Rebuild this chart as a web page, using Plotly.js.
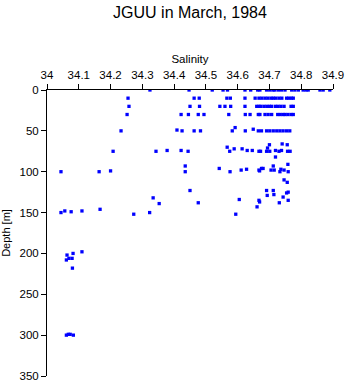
<!DOCTYPE html>
<html>
<head>
<meta charset="utf-8">
<script src="https://cdn.plot.ly/plotly-3.0.1.min.js"></script>
<style>html,body{margin:0;padding:0;background:#fff;}#chart{width:346px;height:384px;}</style>
</head>
<body>
<div id="chart"></div>
<script>
// Salinity / depth pairs, grouped by depth band
var sal_0 = [34.324,34.447,34.520,34.554,34.568,34.623,34.641,34.663,34.670,34.691,34.701,34.711,34.717,34.728,34.738,34.749,34.770,34.780,34.791,34.806,34.815,34.822,34.859,34.869,34.890];
var dep_0 = [0,0,0,0,0,0,0,0,0,0,0,0,0,0,0,0,0,0,0,0,0,0,0,0,0];

var sal_10 = [34.255,34.463,34.479,34.566,34.577,34.623,34.655,34.667,34.676,34.686,34.695,34.705,34.712,34.720,34.730,34.739,34.754,34.761,34.769,34.775];
var dep_10 = [10,10,10,10,10,10,10,10,10,10,10,10,10,10,10,10,10,10,10,10];

var sal_20 = [34.258,34.450,34.480,34.544,34.560,34.578,34.623,34.660,34.667,34.673,34.683,34.692,34.700,34.707,34.719,34.727,34.736,34.746,34.768,34.775];
var dep_20 = [20,20,20,20,20,20,20,20,20,20,20,20,20,20,20,20,20,20,20,20];

var sal_30 = [34.252,34.422,34.445,34.476,34.494,34.572,34.624,34.639,34.665,34.670,34.686,34.696,34.707,34.726,34.734,34.743,34.749,34.758,34.768,34.775];
var dep_30 = [30,30,30,30,30,30,30,30,30,30,30,30,30,30,30,30,30,30,30,30];

var sal_50 = [34.233,34.409,34.425,34.463,34.483,34.583,34.592,34.624,34.649,34.665,34.675,34.691,34.701,34.712,34.723,34.733,34.743,34.754,34.764];
var dep_50 = [50,49,50,50,50,50,46,50,48,50,50,50,50,50,50,50,50,50,50];

var sal_75 = [34.208,34.343,34.378,34.422,34.444,34.567,34.575,34.589,34.614,34.630,34.646,34.667,34.672,34.691,34.694,34.701,34.719,34.730,34.738,34.757,34.765,34.700,34.740,34.756,34.719,34.758];
var dep_75 = [75,75,74,74,75,70,75,72,72,74,74,75,75,75,71,75,74,75,74,75,75,67,66,67,82,91];

var sal_100 = [34.435,34.435,34.044,34.164,34.200,34.542,34.576,34.611,34.628,34.667,34.669,34.675,34.680,34.712,34.705,34.715,34.736,34.746,34.759,34.733,34.746,34.756];
var dep_100 = [93,100,100,100,99,96,100,98,97,98,99,96,96,93,98,98,97,98,100,100,110,113];

var sal_130 = [34.450,34.334,34.353,34.476,34.605,34.667,34.661,34.691,34.693,34.712,34.714,34.759,34.754,34.743,34.759,34.669,34.731];
var dep_130 = [123,132,139,138,134,135,143,123,129,123,128,125,126,131,135,137,138];

var sal_150 = [34.044,34.056,34.076,34.110,34.167,34.273,34.323,34.594];
var dep_150 = [150,148,149,148,146,152,150,152];

var sal_200 = [34.063,34.082,34.110,34.061,34.069,34.079,34.080];
var dep_200 = [202,200,198,208,206,206,218];

var sal_300 = [34.061,34.067,34.073,34.083];
var dep_300 = [300,299,299,300];

var salinity = [].concat(sal_0, sal_10, sal_20, sal_30, sal_50, sal_75, sal_100, sal_130, sal_150, sal_200, sal_300);
var depth = [].concat(dep_0, dep_10, dep_20, dep_30, dep_50, dep_75, dep_100, dep_130, dep_150, dep_200, dep_300);

var xTicks = [34,34.1,34.2,34.3,34.4,34.5,34.6,34.7,34.8,34.9];
var yTicks = [0,50,100,150,200,250,300,350];

var trace = {
  x: salinity,
  y: depth,
  mode: 'markers',
  type: 'scatter',
  marker: {color: '#0000ff', symbol: 'square', size: 3.3, line: {width: 0}},
  hoverinfo: 'skip'
};

var fontFam = 'Liberation Sans, Arial, sans-serif';
var layout = {
  width: 346,
  height: 384,
  margin: {l: 47, r: 13, t: 90, b: 8},
  paper_bgcolor: '#ffffff',
  plot_bgcolor: '#ffffff',
  showlegend: false,
  font: {family: fontFam, size: 11, color: '#000'},
  title: {text: 'JGUU in March, 1984', font: {family: fontFam, size: 16, color: '#000'}, xref: 'paper', x: 0.5, xanchor: 'center', y: 0.969, yanchor: 'middle'},
  xaxis: {
    side: 'top',
    range: [34, 34.9],
    tickvals: xTicks,
    ticktext: xTicks.map(String),
    showgrid: false, zeroline: false,
    showline: true, linecolor: '#000', linewidth: 1,
    ticks: 'outside', ticklen: 5, tickcolor: '#000', tickwidth: 1,
    tickfont: {family: fontFam, size: 11.5, color: '#000'},
    title: {text: 'Salinity', font: {family: fontFam, size: 11.5, color: '#000'}, standoff: 3}
  },
  yaxis: {
    range: [350, 0],
    tickvals: yTicks,
    ticktext: yTicks.map(String),
    showgrid: false, zeroline: false,
    showline: true, linecolor: '#000', linewidth: 1,
    ticks: 'outside', ticklen: 5, tickcolor: '#000', tickwidth: 1,
    tickfont: {family: fontFam, size: 11.5, color: '#000'},
    title: {text: 'Depth [m]', font: {family: fontFam, size: 11, color: '#000'}, standoff: 6}
  }
};

Plotly.newPlot('chart', [trace], layout, {staticPlot: true, displayModeBar: false});
</script>
</body>
</html>
